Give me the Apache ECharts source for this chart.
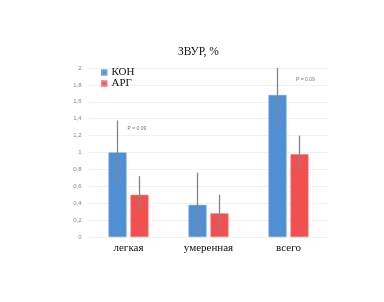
<!DOCTYPE html>
<html><head><meta charset="utf-8">
<script src="https://cdn.jsdelivr.net/npm/echarts@6/dist/echarts.min.js"></script>
<style>html,body{margin:0;padding:0;background:#fff}#c{width:384px;height:302px}</style>
</head><body><div id="c"></div>
<script>
const categories = ['легкая', 'умеренная', 'всего'];
const seriesNames = ['КОН', 'АРГ'];
const konValues = [1.0, 0.38, 1.68];
const argValues = [0.5, 0.28, 0.98];
const konLow = [0.62, 0.0, 1.31];
const konHigh = [1.38, 0.76, 2.0];
const argLow = [0.3, 0.08, 0.79];
const argHigh = [0.72, 0.5, 1.2];
const pLabels = ['P = 0.09', '', 'P = 0.09'];
const pLabelY = [1.28, null, 1.86];
const yTicks = ['0','0,2','0,4','0,6','0,8','1','1,2','1,4','1,6','1,8','2'];

const BLUE = '#4f8fd6', RED = '#f05050';
const chart = echarts.init(document.getElementById('c'), null, {renderer: 'canvas'});

function errSeries(low, high, offset) {
  return {
    type: 'custom', silent: true, z: 5,
    data: categories.map((c, i) => [i, low[i], high[i]]),
    renderItem: function (params, api) {
      const lo = api.coord([api.value(0), api.value(1)]);
      const hi = api.coord([api.value(0), api.value(2)]);
      const x = lo[0] + offset;
      return { type: 'line', shape: {x1: x, y1: lo[1], x2: x, y2: hi[1]},
               style: {stroke: '#858585', lineWidth: 1.3} };
    }
  };
}

chart.setOption({
  animation: false,
  title: { text: 'ЗВУР, %', left: 173, top: 41,
    textStyle: {fontFamily: 'Liberation Serif', fontSize: 11.5, fontWeight: 'normal', color: '#111'} },
  legend: { data: seriesNames, orient: 'vertical', left: 101, top: 67, itemWidth: 4.5, itemHeight: 4.5, itemGap: 0,
    padding: 0,
    icon: 'rect', textStyle: {fontFamily: 'Liberation Serif', fontSize: 11, lineHeight: 9, height: 9, color: '#111', padding: 0} },
  grid: { left: 88.5, right: 55.5, top: 68, bottom: 65 },
  xAxis: { type: 'category', data: categories,
    axisLine: {show: false}, axisTick: {show: false},
    axisLabel: {fontFamily: 'Liberation Serif', fontSize: 11, color: '#111', margin: 6} },
  yAxis: { type: 'value', min: 0, max: 2, interval: 0.2,
    axisLine: {show: false}, axisTick: {show: false},
    axisLabel: {fontFamily: 'Liberation Sans', fontSize: 6, color: '#888', margin: 7,
      formatter: function (v) { return yTicks[Math.round(v / 0.2)]; } },
    splitLine: {lineStyle: {color: '#f2f2f2', width: 1}} },
  series: [
    { name: seriesNames[0], type: 'bar', data: konValues, barWidth: 18, barGap: '22%',
      itemStyle: {color: BLUE, borderColor: '#6fa5e0', borderWidth: 0.6} },
    { name: seriesNames[1], type: 'bar', data: argValues, barWidth: 18, barGap: '22%',
      itemStyle: {color: RED, borderColor: '#f57a7a', borderWidth: 0.6} },
    errSeries(konLow, konHigh, -11),
    errSeries(argLow, argHigh, 11),
    { type: 'custom', silent: true, z: 6,
      data: categories.map((c, i) => [i, pLabelY[i] == null ? 0 : pLabelY[i], pLabels[i]]),
      renderItem: function (params, api) {
        const i = params.dataIndex;
        if (!pLabels[i]) return null;
        const p = api.coord([api.value(0), api.value(1)]);
        const dx = i === 0 ? -1 : 7.5;
        return { type: 'text', x: p[0] + dx, y: p[1],
          style: {text: pLabels[i], fill: '#777', font: '5px Liberation Sans', verticalAlign: 'middle', align: 'left'} };
      }
    }
  ]
});
</script></body></html>
